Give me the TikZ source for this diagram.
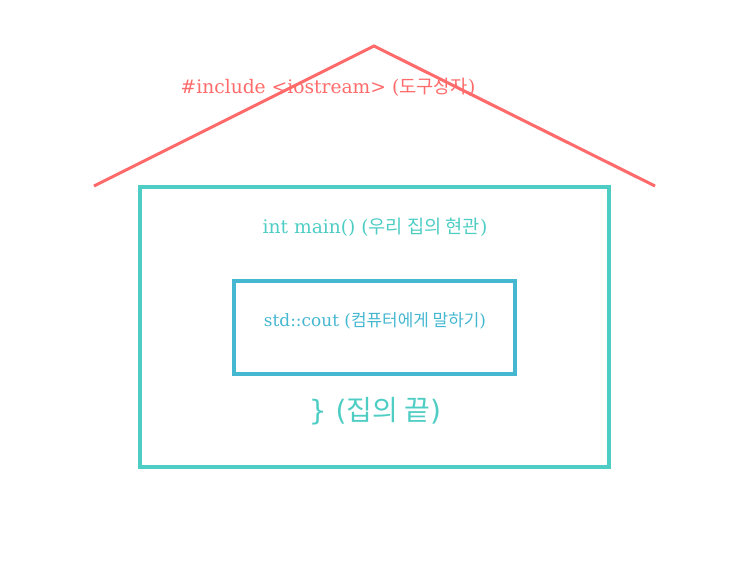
\documentclass[tikz,border=0pt]{standalone}
\usepackage{fontspec}
\setmainfont{DejaVu Serif}
\newfontfamily\cjk{Noto Sans CJK KR}
\newfontfamily\dvsans{DejaVu Sans}
\definecolor{roofred}{HTML}{FF6B6B}
\definecolor{teal}{HTML}{4ECDC4}
\definecolor{skyblue}{HTML}{45B7D1}
\begin{document}
\begin{tikzpicture}[x=0.75pt,y=-0.75pt,
  lbl/.style={inner sep=0pt},
  wall/.style={line width=2.3pt}]
\useasboundingbox (0,0) rectangle (750,562);
\coordinate (rl) at (94,186);
\coordinate (rt) at (374,46);
\coordinate (rr) at (655,186);
\draw[wall, roofred, line join=miter] (rl) -- (rt) -- (rr);
\draw[wall, teal] (140,187) rectangle (609,467);
\draw[wall, skyblue] (234,281) rectangle (515,374);
\node[lbl, text=roofred, font=\fontsize{14}{16}\selectfont] (inc) at (328,87) {\#include <iostream> ({\cjk 도구상자})};
\node[lbl, text=teal, font=\fontsize{14}{16}\selectfont] (main) at (375,227) {int main() ({\cjk 우리 집의 현관})};
\node[lbl, text=skyblue, font=\fontsize{12.7}{15}\selectfont] (cout) at (375,321) {std::cout ({\cjk 컴퓨터에게 말하기})};
\node[lbl, text=teal, font=\fontsize{21}{24}\selectfont] (end) at (375,411) {\dvsans \} ({\cjk 집의 끝})};
\end{tikzpicture}
\end{document}
